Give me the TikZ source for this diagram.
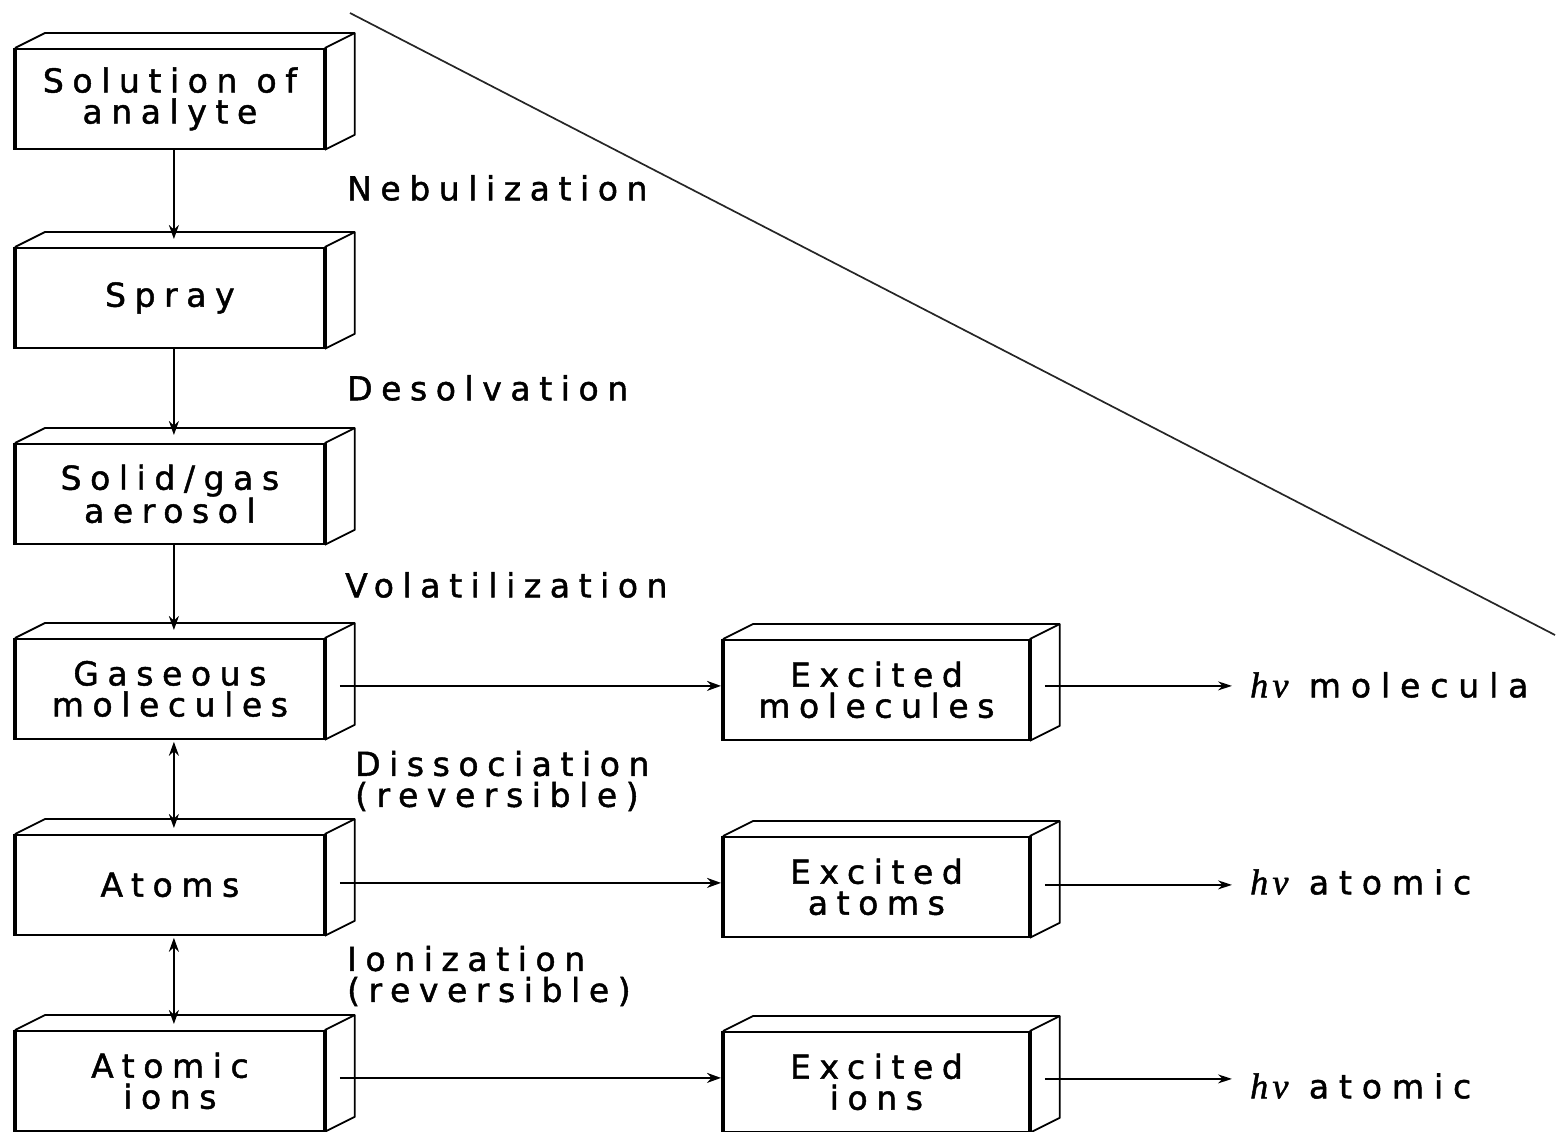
\documentclass[tikz,border=0pt]{standalone}
\usepackage{fontspec}
\usetikzlibrary{calc,arrows.meta}
\newfontfamily\labfont{DejaVu Sans}[LetterSpace=26, FakeBold=1.4]
\newfontfamily\outfont{DejaVu Sans}[LetterSpace=30, FakeBold=1.4]
\newfontfamily\hvfont{Liberation Serif}[LetterSpace=12, FakeBold=1.4]

% draws a box seen in perspective: front face node plus top and side faces
\newcommand{\solidbox}[5]{% name, x, y (front top-left), width, text
  \node[frontface, minimum width=#4, anchor=north west] (#1) at (#2,#3) {#5};
  \draw[boxedge] (#1.north west) -- ++(30,-15) -- ($(#1.north east)+(30,-15)$)
        -- ($(#1.south east)+(30,-15)$) -- (#1.south east);
  \draw[boxedge] (#1.north east) -- ++(30,-15);
  \draw[thickedge] (#1.north west) -- (#1.south west);
  \draw[thickedge] (#1.north east) -- (#1.south east);
}

\tikzset{
  x=1pt, y=-1pt,
  frontface/.style={draw, line width=1.8pt, fill=white, minimum height=100pt,
    inner sep=0pt, align=center, font=\labfont\fontsize{33}{31}\selectfont},
  boxedge/.style={line width=1.8pt, line join=round},
  thickedge/.style={line width=3.6pt},
  flow/.style={line width=2pt, -{Stealth[length=14pt,width=10pt]}},
  twoway/.style={line width=2pt, {Stealth[length=14pt,width=10pt]}-{Stealth[length=14pt,width=10pt]}},
  emit/.style={line width=1.7pt, -{Stealth[length=14pt,width=9pt]}},
  steplabel/.style={anchor=west, inner sep=0pt, align=left,
    font=\labfont\fontsize{33}{31}\selectfont},
  outlabel/.style={anchor=west, inner sep=0pt,
    font=\outfont\fontsize{33}{31}\selectfont},
}

\begin{document}
\begin{tikzpicture}
\useasboundingbox (0,0) rectangle (1559,1132);

% stray rule running across the page
\coordinate (r1) at (350,13);
\coordinate (r2) at (1555,635);
\draw[line width=1.7pt, black!85] (r1) -- (r2);

% left column
\solidbox{sol}{15}{48}{308}{Solution of\\analyte}
\solidbox{spray}{15}{247}{308}{Spray}
\solidbox{aero}{15}{443}{308}{Solid/gas\\aerosol}
\solidbox{gas}{15}{638}{308}{Gaseous\\molecules}
\solidbox{atoms}{15}{834}{308}{Atoms}
\solidbox{ions}{15}{1030}{308}{Atomic\\ions}

% right column
\solidbox{exmol}{723}{639}{305}{Excited\\molecules}
\solidbox{exat}{723}{836}{305}{Excited\\atoms}
\solidbox{exion}{723}{1031}{305}{Excited\\ions}

% step labels
\node[steplabel] (neb) at (347,188) {Nebulization};
\node[steplabel] (des) at (347,388) {Desolvation};
\node[steplabel] (vol) at (345,585) {Volatilization};
\node[steplabel] (dis) at (355,781) {Dissociation\\(reversible)};
\node[steplabel] (ion) at (347,976) {Ionization\\(reversible)};

% emission labels
\node[outlabel] (hvm) at (1250,685) {{\hvfont\itshape\fontsize{36}{31}\selectfont hν} molecula};
\node[outlabel] (hva) at (1250,882) {{\hvfont\itshape\fontsize{36}{31}\selectfont hν} atomic};
\node[outlabel] (hvi) at (1250,1086) {{\hvfont\itshape\fontsize{36}{31}\selectfont hν} atomic};

% vertical sequence
\draw[flow] ($(sol.south)+(4,0)$) -- ($(spray.north)+(4,-8)$);
\draw[flow] ($(spray.south)+(4,0)$) -- ($(aero.north)+(4,-8)$);
\draw[flow] ($(aero.south)+(4,0)$) -- ($(gas.north)+(4,-8)$);
\draw[twoway] ($(gas.south)+(4,2)$) -- ($(atoms.north)+(4,-6)$);
\draw[twoway] ($(atoms.south)+(4,2)$) -- ($(ions.north)+(4,-6)$);

% excitation
\coordinate (g1) at ($(gas.east)+(15,-3)$);
\coordinate (g2) at ($(atoms.east)+(15,-2)$);
\coordinate (g3) at ($(ions.east)+(15,-3)$);
\draw[flow, shorten >=2pt] (g1) -- (g1 -| exmol.west);
\draw[flow, shorten >=2pt] (g2) -- (g2 -| exat.west);
\draw[flow, shorten >=2pt] (g3) -- (g3 -| exion.west);

% emission
\coordinate (e1) at ($(exmol.east)+(15,-4)$);
\coordinate (e2) at ($(exat.east)+(15,-2)$);
\coordinate (e3) at ($(exion.east)+(15,-3)$);
\draw[emit, shorten >=18pt] (e1) -- (e1 -| hvm.west);
\draw[emit, shorten >=18pt] (e2) -- (e2 -| hva.west);
\draw[emit, shorten >=18pt] (e3) -- (e3 -| hvi.west);
\end{tikzpicture}
\end{document}
